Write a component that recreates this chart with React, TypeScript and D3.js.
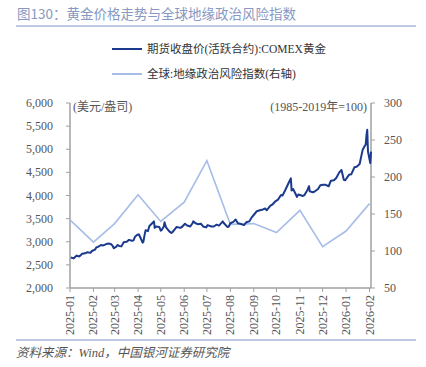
import React from 'react';
import * as d3 from 'd3';

// 期货收盘价(活跃合约):COMEX黄金, 美元/盎司
const goldDates = [
  '2025-01-02','2025-01-06','2025-01-08','2025-01-10','2025-01-13','2025-01-15','2025-01-17','2025-01-21','2025-01-24','2025-01-28','2025-01-30',
  '2025-02-03','2025-02-05','2025-02-07','2025-02-11','2025-02-14','2025-02-18','2025-02-20','2025-02-24','2025-02-26','2025-02-28',
  '2025-03-03','2025-03-05','2025-03-07','2025-03-10','2025-03-13','2025-03-17','2025-03-20','2025-03-24','2025-03-26','2025-03-28','2025-03-31',
  '2025-04-02','2025-04-03','2025-04-07','2025-04-08','2025-04-10','2025-04-11','2025-04-14','2025-04-16','2025-04-21','2025-04-22','2025-04-23','2025-04-25','2025-04-29',
  '2025-05-01','2025-05-02','2025-05-05','2025-05-06','2025-05-08','2025-05-12','2025-05-15','2025-05-16','2025-05-20','2025-05-22','2025-05-27','2025-05-29',
  '2025-06-02','2025-06-05','2025-06-09','2025-06-12','2025-06-13','2025-06-16','2025-06-19','2025-06-23','2025-06-26','2025-06-30',
  '2025-07-02','2025-07-07','2025-07-10','2025-07-14','2025-07-17','2025-07-22','2025-07-23','2025-07-28','2025-07-30',
  '2025-08-01','2025-08-05','2025-08-08','2025-08-11','2025-08-14','2025-08-19','2025-08-22','2025-08-26','2025-08-29',
  '2025-09-02','2025-09-05','2025-09-09','2025-09-12','2025-09-16','2025-09-18','2025-09-23','2025-09-26','2025-09-30',
  '2025-10-03','2025-10-07','2025-10-09','2025-10-13','2025-10-15','2025-10-17','2025-10-20','2025-10-21','2025-10-23','2025-10-27','2025-10-28','2025-10-30',
  '2025-11-03','2025-11-05','2025-11-07','2025-11-11','2025-11-13','2025-11-14','2025-11-18','2025-11-20','2025-11-25','2025-11-28',
  '2025-12-02','2025-12-05','2025-12-09','2025-12-12','2025-12-16','2025-12-19','2025-12-23','2025-12-26','2025-12-29','2025-12-31',
  '2026-01-05','2026-01-08','2026-01-12','2026-01-15','2026-01-19','2026-01-21','2026-01-23','2026-01-26','2026-01-27','2026-01-28','2026-01-29','2026-01-30',
  '2026-02-02','2026-02-03'
];
const goldValues = [
  2660,2640,2675,2700,2680,2705,2740,2750,2775,2760,2800,
  2830,2880,2890,2930,2920,2950,2960,2950,2920,2860,
  2890,2930,2910,2900,2990,3000,3040,3020,3030,3110,3150,
  3160,3130,2980,3000,3180,3250,3230,3340,3420,3440,3300,3330,3320,
  3240,3250,3330,3420,3310,3230,3190,3200,3280,3320,3300,3320,
  3390,3350,3330,3400,3440,3400,3380,3390,3330,3310,
  3360,3330,3330,3370,3350,3440,3410,3320,3330,
  3400,3430,3480,3400,3390,3360,3420,3440,3520,
  3600,3660,3680,3690,3720,3680,3780,3810,3880,
  3910,4010,4000,4130,4200,4270,4370,4110,4140,4010,3970,4020,
  4000,3990,4010,4120,4200,4090,4070,4080,4140,4220,
  4230,4230,4200,4320,4330,4380,4500,4550,4340,4330,
  4450,4460,4610,4620,4680,4840,4990,5080,5100,5300,5420,4950,
  4700,4950
];

// 全球:地缘政治风险指数(右轴), 1985-2019年=100
const riskDates = ['2025-01','2025-02','2025-03','2025-04','2025-05','2025-06','2025-07','2025-08','2025-09','2025-10','2025-11','2025-12','2026-01','2026-02'];
const riskValues = [142, 112, 137, 176, 140, 166, 222, 136, 137, 125, 155, 106, 127, 164];

const leftTicks = [2000, 2500, 3000, 3500, 4000, 4500, 5000, 5500, 6000];
const rightTicks = [50, 100, 150, 200, 250, 300];
const monthTicks = riskDates;

const parseDay = d3.timeParse('%Y-%m-%d');
const parseMonth = d3.timeParse('%Y-%m');

const W = 426, H = 367;
const m = { left: 70, right: 371, top: 103, bottom: 288 };
const dark = '#1b3a8e';
const light = '#a7bde8';
const axisGray = '#a0a0a0';
const textGray = '#555';
const serif = '"Liberation Serif", "Times New Roman", "Noto Sans CJK SC", serif';

export default function App() {
  const x = d3.scaleTime()
    .domain([parseMonth('2025-01') as Date, parseMonth('2026-02') as Date])
    .range([m.left, 369.5]);
  const yL = d3.scaleLinear().domain([2000, 6000]).range([m.bottom, m.top]);
  const yR = d3.scaleLinear().domain([50, 300]).range([m.bottom, m.top]);

  const gold = goldDates.map((d, i) => ({ date: parseDay(d) as Date, v: goldValues[i] }));
  const risk = riskDates.map((d, i) => ({ date: parseMonth(d) as Date, v: riskValues[i] }));

  const goldLine = d3.line<{ date: Date; v: number }>().x(d => x(d.date)).y(d => yL(d.v));
  const riskLine = d3.line<{ date: Date; v: number }>().x(d => x(d.date)).y(d => yR(d.v));

  return (
    <svg width={W} height={H} style={{ position: 'absolute', left: 0, top: 0, background: '#fff' }} fontFamily={serif}>
      {/* title */}
      <text x={17} y={19} fontSize={13.5} fill="#8798c2" fontFamily='"Noto Sans CJK SC", sans-serif'>图130：黄金价格走势与全球地缘政治风险指数</text>
      <line x1={16} x2={416} y1={26} y2={26} stroke="#a9b9da" strokeWidth={1.5} />

      {/* legend */}
      <line x1={112} x2={142} y1={49} y2={49} stroke={dark} strokeWidth={2} />
      <text x={147} y={53} fontSize={11.5} fill="#333">期货收盘价(活跃合约):COMEX黄金</text>
      <line x1={112} x2={142} y1={74} y2={74} stroke={light} strokeWidth={2} />
      <text x={147} y={78} fontSize={11.5} fill="#333">全球:地缘政治风险指数(右轴)</text>

      {/* left axis */}
      <line x1={m.left} x2={m.left} y1={m.top} y2={m.bottom} stroke={axisGray} strokeWidth={1.5} />
      {leftTicks.map(t => (
        <g key={'l' + t}>
          <line x1={m.left - 4} x2={m.left} y1={yL(t)} y2={yL(t)} stroke={axisGray} />
          <text x={m.left - 17} y={yL(t) + 4} fontSize={12} textAnchor="end" fill={textGray}>{d3.format(',')(t)}</text>
        </g>
      ))}
      <text x={73} y={111} fontSize={12} fill={textGray}>(美元/盎司)</text>

      {/* right axis */}
      <line x1={m.right} x2={m.right} y1={m.top} y2={m.bottom} stroke={axisGray} strokeWidth={1.5} />
      {rightTicks.map(t => (
        <g key={'r' + t}>
          <line x1={m.right} x2={m.right + 4} y1={yR(t)} y2={yR(t)} stroke={axisGray} />
          <text x={m.right + 13} y={yR(t) + 4} fontSize={12} fill={textGray}>{t}</text>
        </g>
      ))}
      <text x={367} y={111} fontSize={12} textAnchor="end" fill={textGray}>(1985-2019年=100)</text>

      {/* bottom axis */}
      <line x1={m.left} x2={m.right} y1={m.bottom} y2={m.bottom} stroke={axisGray} strokeWidth={1.5} />
      {monthTicks.map(t => {
        const xx = x(parseMonth(t) as Date);
        return (
          <g key={'x' + t}>
            <line x1={xx} x2={xx} y1={m.bottom} y2={m.bottom + 4} stroke={axisGray} />
            <text transform={`translate(${xx + 4},${m.bottom + 7}) rotate(-90)`} fontSize={12} textAnchor="end" fill={textGray}>{t}</text>
          </g>
        );
      })}

      {/* series */}
      <path d={riskLine(risk) || ''} fill="none" stroke={light} strokeWidth={1.6} />
      <path d={goldLine(gold) || ''} fill="none" stroke={dark} strokeWidth={2} strokeLinejoin="round" />

      {/* footer */}
      <line x1={16} x2={416} y1={340} y2={340} stroke="#a9b9da" strokeWidth={1.5} />
      <text x={16} y={357} fontSize={12.5} fill={textGray} fontStyle="italic">资料来源：Wind，中国银河证券研究院</text>
    </svg>
  );
}
